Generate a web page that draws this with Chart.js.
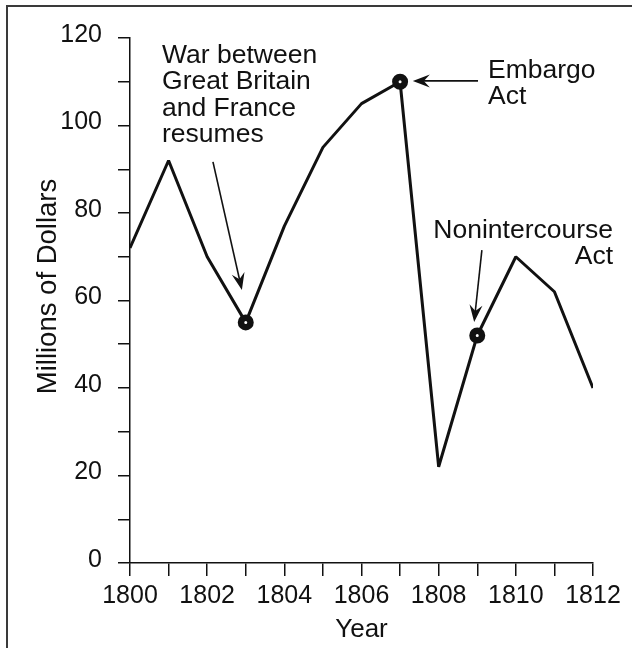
<!DOCTYPE html>
<html>
<head>
<meta charset="utf-8">
<script src="https://cdn.jsdelivr.net/npm/chart.js@4.4.1/dist/chart.umd.min.js"></script>
<style>
  html, body { margin: 0; padding: 0; background: #fff; }
  canvas { display: block; }
</style>
</head>
<body>
<canvas id="c" width="632" height="648"></canvas>
<script>
// ---- data ----
const years = [1800, 1801, 1802, 1803, 1804, 1805, 1806, 1807, 1808, 1809, 1810, 1811, 1812];
const values = [72, 92, 70, 55, 77, 95, 105, 110, 22, 52, 70, 62, 40];
const markedYears = [1803, 1807, 1809];
const labeledYears = [1800, 1802, 1804, 1806, 1808, 1810, 1812];
const labeledValues = [0, 20, 40, 60, 80, 100, 120];
const xTitle = 'Year';
const yTitle = 'Millions of Dollars';
const noteTexts = [
  ['War between', 'Great Britain', 'and France', 'resumes'],
  ['Embargo', 'Act'],
  ['Nonintercourse', 'Act']
];

// ---- annotation placement (in data units) ----
const notePlacement = [
  { x: 1800.83, y: 114.3, align: 'left',  from: [1802.15, 91.7], to: [1802.90, 62.4] },
  { x: 1809.28, y: 110.9, align: 'left',  from: [1809.02, 110.2], to: [1807.33, 110.2] },
  { x: 1812.52, y: 74.3,  align: 'right', from: [1809.12, 71.5], to: [1808.92, 55.1] }
];

const FONT = '"Liberation Sans", Arial, Helvetica, sans-serif';
const INK = '#111111';
const FS = 25;
const NOTE_FS = 26.5;
const TITLE_FS = 27.5;
const LINE_H = 26.5;

function drawArrow(ctx, x1, y1, x2, y2) {
  const ang = Math.atan2(y2 - y1, x2 - x1);
  const L = 17, W = 6.5, notch = 11;
  ctx.save();
  ctx.strokeStyle = INK;
  ctx.fillStyle = INK;
  ctx.lineWidth = 1.6;
  ctx.beginPath();
  ctx.moveTo(x1, y1);
  ctx.lineTo(x2 - Math.cos(ang) * notch, y2 - Math.sin(ang) * notch);
  ctx.stroke();
  ctx.translate(x2, y2);
  ctx.rotate(ang);
  ctx.beginPath();
  ctx.moveTo(0, 0);
  ctx.lineTo(-L, -W);
  ctx.lineTo(-notch, 0);
  ctx.lineTo(-L, W);
  ctx.closePath();
  ctx.fill();
  ctx.restore();
}

const decoPlugin = {
  id: 'deco',
  beforeDraw(chart) {
    const ctx = chart.ctx;
    ctx.save();
    ctx.fillStyle = '#fff';
    ctx.fillRect(0, 0, chart.width, chart.height);
    ctx.strokeStyle = '#3a3a3a';
    ctx.lineWidth = 2;
    ctx.beginPath();
    ctx.moveTo(7, chart.height);
    ctx.lineTo(7, 6);
    ctx.lineTo(chart.width, 6);
    ctx.stroke();
    ctx.restore();
  },
  afterDatasetsDraw(chart) {
    const ctx = chart.ctx;
    const xs = chart.scales.x, ys = chart.scales.y;
    ctx.save();
    ctx.fillStyle = INK;
    ctx.font = NOTE_FS + 'px ' + FONT;
    ctx.textBaseline = 'alphabetic';
    notePlacement.forEach((p, i) => {
      const lines = noteTexts[i];
      const px = xs.getPixelForValue(p.x);
      const py = ys.getPixelForValue(p.y);
      ctx.textAlign = p.align;
      lines.forEach((t, k) => ctx.fillText(t, px, py + k * LINE_H));
      drawArrow(ctx,
        xs.getPixelForValue(p.from[0]), ys.getPixelForValue(p.from[1]),
        xs.getPixelForValue(p.to[0]), ys.getPixelForValue(p.to[1]));
    });
    // y-axis title
    ctx.font = TITLE_FS + 'px ' + FONT;
    ctx.translate(48, (ys.top + ys.bottom) / 2 - 14);
    ctx.rotate(-Math.PI / 2);
    ctx.textAlign = 'center';
    ctx.textBaseline = 'middle';
    ctx.fillText(yTitle, 0, 0);
    ctx.restore();
  }
};

new Chart(document.getElementById('c'), {
  type: 'line',
  data: {
    datasets: [{
      data: years.map((y, i) => ({ x: y, y: values[i] })),
      borderColor: INK,
      borderWidth: 3,
      tension: 0,
      borderJoinStyle: 'bevel',
      pointRadius: ctx => markedYears.includes(years[ctx.dataIndex]) ? 4.75 : 0,
      pointHoverRadius: 0,
      pointBorderWidth: 6.5,
      pointBackgroundColor: '#fff',
      pointBorderColor: INK,
      fill: false
    }]
  },
  options: {
    responsive: false,
    animation: false,
    events: [],
    layout: { padding: { top: 38, right: 39, left: 0, bottom: 0 } },
    plugins: { legend: { display: false }, tooltip: { enabled: false } },
    scales: {
      x: {
        type: 'linear',
        min: 1800, max: 1812,
        afterFit(s) { s.height = 85; },
        ticks: {
          stepSize: 1,
          autoSkip: false,
          maxRotation: 0,
          padding: 5,
          color: INK,
          font: { family: FONT, size: FS },
          callback: v => labeledYears.includes(v) ? String(v) : ''
        },
        grid: { drawOnChartArea: false, drawTicks: true, tickLength: 13, color: INK, lineWidth: 1.5 },
        border: { display: true, color: INK, width: 1.5 },
        title: { display: true, text: xTitle, color: INK, font: { family: FONT, size: 26 }, padding: { top: 0, bottom: 3 } }
      },
      y: {
        type: 'linear',
        min: 0, max: 120,
        afterFit(s) { s.width = 130; },
        ticks: {
          stepSize: 10,
          autoSkip: false,
          padding: 16,
          labelOffset: -3,
          color: INK,
          font: { family: FONT, size: FS },
          callback: v => labeledValues.includes(v) ? String(v) : ''
        },
        grid: { drawOnChartArea: false, drawTicks: true, tickLength: 12, color: INK, lineWidth: 1.5 },
        border: { display: true, color: INK, width: 1.5 }
      }
    }
  },
  plugins: [decoPlugin]
});
</script>
</body>
</html>
